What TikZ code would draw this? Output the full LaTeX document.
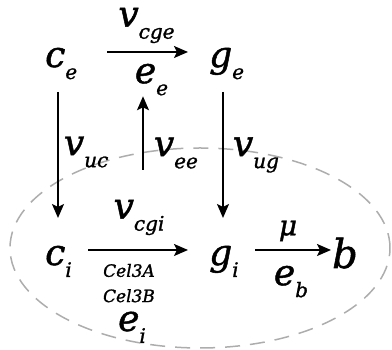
\documentclass[tikz,border=0pt]{standalone}
\usepackage{fontspec}
\setmainfont[ItalicFeatures={FakeBold=1.3}]{DejaVu Serif}
\usetikzlibrary{arrows.meta,positioning}
\newcommand{\sbs}[1]{\raisebox{-12pt}{\fontsize{20}{20}\selectfont #1}}

\begin{document}
\begin{tikzpicture}[
    x=1pt, y=1pt,
    var/.style={anchor=base west, inner sep=0pt, font=\fontsize{36}{36}\selectfont\itshape},
    lbl/.style={inner sep=0pt, font=\fontsize{36}{36}\selectfont\itshape},
    enz/.style={inner sep=0pt, font=\fontsize{17}{17}\selectfont\itshape},
    arrow/.style={-{Stealth[length=14pt,width=12pt,inset=3pt]}, line width=1.8pt},
    cell/.style={draw=black!32, dash pattern=on 15pt off 10pt, line width=1.5pt}
]
\useasboundingbox (0,0) rectangle (392,350);

% Cell
\draw[cell] (200,102) ellipse [x radius=190pt, y radius=100pt];

% Species
\node[var] (ce) at (45,283) {c\sbs{e}};
\node[var] (ge) at (209,283) {g\sbs{e}};
\node[var] (ci) at (45,85) {c\sbs{i}};
\node[var] (gi) at (209,85) {g\sbs{i}};
\node[var, font=\fontsize{40}{40}\selectfont\itshape] (b) at (332,82) {b};

% Reactions
\draw[arrow] ([shift={(62,15)}]ce.base west) -- ([shift={(-21,15)}]ge.base west)
    node[lbl, midway, above=8pt, xshift=-1pt] (vcge) {v\sbs{cge}}
    node[lbl, midway, below=11pt, xshift=4pt] (ee) {e\sbs{e}};
\draw[arrow] ([shift={(43,15)}]ci.base west) -- ([shift={(-21,15)}]gi.base west)
    node[lbl, midway, above=14pt, xshift=1pt] (vcgi) {v\sbs{cgi}}
    node[enz, midway, below=13pt, xshift=-9pt] (cela) {Cel3A};
\node[enz, below=11pt of cela] (celb) {Cel3B};
\node[lbl, below=9pt of celb, xshift=3pt] (ei) {e\sbs{i}};
\draw[arrow] ([shift={(46,15)}]gi.base west) -- ([shift={(-1,18)}]b.base west)
    node[midway, above=8pt, xshift=-5pt, inner sep=0pt, font=\fontsize{28}{28}\selectfont\itshape] (mu) {μ}
    node[lbl, midway, below=15pt, xshift=-2pt] (eb) {e\sbs{b}};

% Uptake
\draw[arrow] ([shift={(13,-25)}]ce.base west) -- ([shift={(13,47)}]ci.base west)
    node[lbl, midway, right=5pt, yshift=3pt] (vuc) {v\sbs{uc}};
\draw[arrow] ([shift={(14,-25)}]ge.base west) -- ([shift={(14,47)}]gi.base west)
    node[lbl, midway, right=9pt] (vug) {v\sbs{ug}};
\coordinate (eein) at (143,180);
\draw[arrow] (eein) -- (eein |- ee.south)
    node[lbl, pos=0.23, right=10pt] (vee) {v\sbs{ee}};

\end{tikzpicture}
\end{document}
